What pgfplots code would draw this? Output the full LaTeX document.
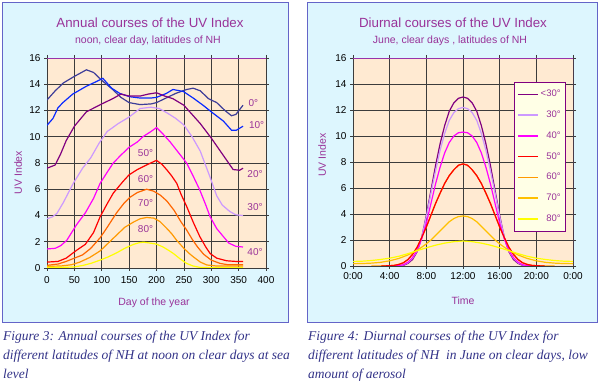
\documentclass[border=0pt]{standalone}
\usepackage{fontspec}
\setmainfont{Liberation Sans}
\newfontfamily\capfont{Liberation Serif}
\usepackage{pgfplots}
\pgfplotsset{compat=1.18}
\definecolor{panelbg}{HTML}{DDF6FE}
\definecolor{panelframe}{HTML}{6464C8}
\definecolor{plotbg}{HTML}{FFEAD2}
\definecolor{gridc}{HTML}{3C3C3C}
\definecolor{ttl}{HTML}{993399}
\definecolor{frm}{HTML}{9933AA}
\definecolor{capc}{HTML}{333388}
\definecolor{cA}{HTML}{3D3D99}
\definecolor{cB}{HTML}{0A2AFF}
\definecolor{cC}{HTML}{800080}
\definecolor{cD}{HTML}{CC99FF}
\definecolor{cE}{HTML}{FF00FF}
\definecolor{cF}{HTML}{FF0000}
\definecolor{cG}{HTML}{FF6600}
\definecolor{cH}{HTML}{FF9900}
\definecolor{cI}{HTML}{FFFF00}
\definecolor{cJ}{HTML}{FFC000}
\definecolor{legbg}{HTML}{FFFFE6}
\pgfplotsset{uvaxis/.style={
  scale only axis,
  axis background/.style={fill=plotbg},
  grid=major,
  major grid style={draw=gridc, line width=0.7pt},
  axis line style={draw=gridc, line width=0.7pt},
  tick align=outside, major tick length=3pt,
  tick style={draw=gridc, line width=0.7pt},
  ymin=0, ymax=16, ytick={0,2,...,16},
  ticklabel style={font=\fontsize{10}{12}\selectfont},
  /pgf/number format/assume math mode=true,
  every axis plot/.append style={line width=1.2pt, mark=none},
}}
\begin{document}
\begin{tikzpicture}
\useasboundingbox (0,0) rectangle (600pt,385pt);
\filldraw[fill=panelbg, draw=panelframe, line width=1pt] (2.5pt,62pt) rectangle (288pt,382.5pt);
\filldraw[fill=panelbg, draw=panelframe, line width=1pt] (307pt,62pt) rectangle (597.5pt,382.5pt);
% titles
\node[anchor=base, font=\fontsize{13.3}{15}\selectfont, text=ttl] at (150pt,357.7pt) {Annual courses of the UV Index};
\node[anchor=base, font=\fontsize{10.5}{12}\selectfont, text=ttl] at (148pt,341.3pt) {noon, clear day, latitudes of NH};
\node[anchor=base, font=\fontsize{13.3}{15}\selectfont, text=ttl] at (453pt,357.7pt) {Diurnal courses of the UV Index};
\node[anchor=base, font=\fontsize{10.5}{12}\selectfont, text=ttl] at (450pt,341.3pt) {June, clear days , latitudes of NH};
% axis labels
\node[anchor=base, font=\fontsize{10.5}{12}\selectfont, text=ttl] at (154pt,79pt) {Day of the year};
\node[anchor=base, font=\fontsize{10.5}{12}\selectfont, text=ttl] at (463pt,80.7pt) {Time};
\node[rotate=90, font=\fontsize{10.5}{12}\selectfont, text=ttl] at (18pt,212.5pt) {UV Index};
\node[rotate=90, font=\fontsize{10.5}{12}\selectfont, text=ttl] at (322pt,230pt) {UV Index};
% captions
\begin{scope}[every node/.style={anchor=base west, font=\capfont\itshape\fontsize{13.5}{19}\selectfont, text=capc, inner sep=0pt}]
\node at (3pt,44pt) {Figure 3: Annual courses of the UV Index for};
\node at (3pt,25pt) {different latitudes of NH at noon on clear days at sea};
\node at (3pt,6pt) {level};
\node at (308pt,44pt) {Figure 4: Diurnal courses of the UV Index for};
\node at (308pt,25pt) {different latitudes of NH\ \ in June on clear days, low};
\node at (308pt,6pt) {amount of aerosol};
\end{scope}

% ---------------- left chart
\begin{axis}[uvaxis, at={(47pt,117pt)}, anchor=south west, width=219pt, height=210pt,
  xmin=0, xmax=400, xtick={0,50,...,400},
  xticklabel style={yshift=-2pt}]
\addplot[cA] coordinates {(0,12.8)(15,13.5)(30,14.1)(50,14.6)(72,15.1)(85,14.9)(100,14.3)(120,13.6)(135,13.0)(150,12.6)(170,12.45)(190,12.5)(200,12.6)(215,12.9)(235,13.3)(255,13.6)(267,13.7)(280,13.5)(295,12.9)(310,12.6)(325,12.0)(337,11.6)(345,11.7)(358,12.4)};
\addplot[cB] coordinates {(0,10.87)(11,11.4)(20,12.2)(29,12.6)(47,13.25)(72,13.85)(90,14.2)(102,14.45)(118,13.7)(133,13.3)(151,13.05)(170,12.95)(190,12.95)(200,13.0)(218,13.3)(230,13.6)(249,13.45)(267,12.95)(285,12.4)(300,11.9)(322,11.2)(337,10.5)(346,10.5)(358,10.8)};
\addplot[cC] coordinates {(0,7.6)(15,7.85)(25,8.7)(35,9.7)(50,10.8)(72,11.9)(100,12.5)(120,12.9)(135,13.25)(150,13.1)(170,13.1)(185,13.25)(200,13.35)(215,13.1)(230,12.9)(250,12.4)(265,11.7)(280,11.0)(300,9.9)(320,8.7)(340,7.5)(352,7.45)(358,7.6)};
\addplot[cD] coordinates {(0,3.75)(10,3.9)(18,4.15)(30,5.0)(48,6.45)(65,7.6)(80,8.4)(95,9.5)(110,10.4)(130,11.0)(150,11.5)(170,12.15)(190,12.25)(205,12.15)(220,11.8)(235,11.4)(250,10.9)(265,10.0)(280,8.9)(298,6.9)(310,5.5)(320,4.8)(334,4.3)(345,4.05)(358,4.0)};
\addplot[cE] coordinates {(0,1.45)(15,1.5)(25,1.7)(36,2.1)(54,3.3)(70,4.2)(85,5.3)(97,6.45)(110,7.3)(121,8.0)(135,8.6)(150,9.2)(165,9.6)(175,10.0)(190,10.4)(200,10.7)(212,10.2)(225,9.6)(240,8.8)(255,8.0)(267,7.0)(279,5.95)(290,4.8)(298,3.9)(310,3.0)(322,2.4)(332,1.9)(345,1.65)(358,1.6)};
\addplot[cF] coordinates {(0,0.45)(20,0.5)(35,0.75)(54,1.35)(70,1.8)(85,2.7)(97,3.9)(110,4.9)(121,5.7)(139,6.6)(150,7.1)(165,7.5)(182,7.85)(192,8.05)(200,8.2)(210,7.9)(219,7.47)(228,7.0)(237,6.45)(245,5.6)(255,4.7)(267,3.5)(279,2.4)(290,1.6)(298,1.1)(310,0.75)(328,0.55)(345,0.5)(358,0.5)};
\addplot[cG] coordinates {(0,0.2)(20,0.3)(35,0.5)(50,0.75)(65,1.0)(80,1.5)(97,2.3)(110,3.1)(127,4.2)(140,4.9)(152,5.4)(165,5.75)(182,6.0)(195,5.85)(207,5.55)(219,5.1)(232,4.4)(245,3.5)(255,2.9)(265,2.2)(275,1.6)(286,1.05)(300,0.6)(316,0.35)(330,0.25)(358,0.25)};
\addplot[cH] coordinates {(0,0.13)(25,0.15)(45,0.25)(60,0.45)(78,0.8)(97,1.3)(112,1.9)(127,2.5)(142,3.1)(158,3.5)(170,3.75)(182,3.85)(195,3.8)(206,3.55)(218,3.05)(228,2.6)(237,2.1)(250,1.5)(260,1.1)(267,0.86)(280,0.45)(292,0.23)(310,0.15)(358,0.15)};
\addplot[cI] coordinates {(0,0.05)(30,0.05)(50,0.08)(66,0.2)(80,0.35)(97,0.6)(112,0.85)(127,1.15)(142,1.5)(158,1.8)(168,1.92)(176,1.97)(188,1.9)(200,1.82)(212,1.6)(222,1.35)(231,1.1)(243,0.7)(255,0.35)(267,0.15)(279,0.05)(300,0.02)(358,0.02)};
\draw[frm, line width=0.8pt] (rel axis cs:0,1) -- (rel axis cs:1,1) -- (rel axis cs:1,0);
\begin{scope}[every node/.style={font=\fontsize{10}{12}\selectfont, text=ttl}]
\node at (axis cs:377,12.55) {0°};
\node at (axis cs:383,10.9) {10°};
\node at (axis cs:380,7.14) {20°};
\node at (axis cs:380,4.67) {30°};
\node at (axis cs:380,1.24) {40°};
\node at (axis cs:180,8.78) {50°};
\node at (axis cs:180,6.75) {60°};
\node at (axis cs:180,4.93) {70°};
\node at (axis cs:180,2.95) {80°};
\end{scope}
\end{axis}

% ---------------- right chart
\begin{axis}[uvaxis, at={(353pt,119pt)}, anchor=south west, width=220pt, height=208pt,
  xmin=0, xmax=24, xtick={0,4,...,24},
  xticklabels={0:00,4:00,8:00,12:00,16:00,20:00,0:00},
  legend style={at={(1,1)}, anchor=north east, xshift=-7pt, yshift=-24pt,
    fill=legbg, draw=cC, line width=0.7pt, font=\fontsize{9.5}{11}\selectfont,
    text=ttl, row sep=8.6pt, inner xsep=3pt, inner ysep=6pt,
    cells={anchor=east}},
  legend image code/.code={\draw[#1, line width=1.6pt] (0pt,0pt) -- (20pt,0pt);}]
% 60 deg drawn first, mostly hidden beneath later series
\addplot[cH, forget plot] coordinates {(2,0)(3,0.01)(4,0.02)(4.5,0.05)(5,0.12)(5.5,0.25)(6,0.5)(6.5,0.9)(7,1.45)(7.5,2.2)(8,3.0)(8.5,3.9)(9,4.8)(9.5,5.6)(10,6.35)(10.5,6.95)(11,7.4)(11.5,7.75)(12,7.85)(12.5,7.75)(13,7.4)(13.5,6.95)(14,6.35)(14.5,5.6)(15,4.8)(15.5,3.9)(16,3.0)(16.5,2.2)(17,1.45)(17.5,0.9)(18,0.5)(18.5,0.25)(19,0.12)(19.5,0.05)(20,0.02)(21,0.01)(22,0)};
\addplot[cC, forget plot] coordinates {(4.5,0)(5,0.01)(5.5,0.05)(6,0.2)(6.5,0.5)(7,1.1)(7.5,2.2)(8,3.9)(8.5,5.8)(9,7.7)(9.5,9.4)(10,10.8)(10.5,11.9)(11,12.55)(11.5,12.9)(12,13.0)(12.5,12.9)(13,12.55)(13.5,11.9)(14,10.8)(14.5,9.4)(15,7.7)(15.5,5.8)(16,3.9)(16.5,2.2)(17,1.1)(17.5,0.5)(18,0.2)(18.5,0.05)(19,0.01)(19.5,0)};
\addplot[cD, forget plot] coordinates {(4.5,0)(5,0.02)(5.5,0.08)(6,0.25)(6.5,0.6)(7,1.15)(7.5,2.2)(8,3.8)(8.5,5.6)(9,7.3)(9.5,8.9)(10,10.2)(10.5,11.2)(11,11.8)(11.5,12.1)(12,12.2)(12.5,12.1)(13,11.8)(13.5,11.2)(14,10.2)(14.5,8.9)(15,7.3)(15.5,5.6)(16,3.8)(16.5,2.2)(17,1.15)(17.5,0.6)(18,0.25)(18.5,0.08)(19,0.02)(19.5,0)};
\addplot[cE, forget plot] coordinates {(4.4,0)(5,0.02)(5.5,0.1)(6,0.3)(6.5,0.65)(7,1.2)(7.5,2.1)(8,3.3)(8.5,4.8)(9,6.3)(9.5,7.6)(10,8.7)(10.5,9.5)(11,10.0)(11.5,10.25)(12,10.3)(12.5,10.25)(13,10.0)(13.5,9.5)(14,8.7)(14.5,7.6)(15,6.3)(15.5,4.8)(16,3.3)(16.5,2.1)(17,1.2)(17.5,0.65)(18,0.3)(18.5,0.1)(19,0.02)(19.6,0)};
\addplot[cF, forget plot] coordinates {(3.1,0)(4,0.02)(4.5,0.05)(5,0.12)(5.5,0.25)(6,0.5)(6.5,0.9)(7,1.45)(7.5,2.2)(8,3.0)(8.5,3.9)(9,4.8)(9.5,5.6)(10,6.35)(10.5,6.95)(11,7.4)(11.5,7.75)(12,7.85)(12.5,7.75)(13,7.4)(13.5,6.95)(14,6.35)(14.5,5.6)(15,4.8)(15.5,3.9)(16,3.0)(16.5,2.2)(17,1.45)(17.5,0.9)(18,0.5)(18.5,0.25)(19,0.12)(19.5,0.05)(20,0.02)(20.9,0)};
\addplot[cJ, forget plot] coordinates {(0,0.18)(1,0.19)(2,0.22)(3,0.28)(4,0.4)(5,0.58)(6,0.85)(7,1.2)(7.5,1.45)(8,1.7)(8.5,2.0)(9,2.35)(9.5,2.7)(10,3.05)(10.5,3.4)(11,3.65)(11.5,3.8)(12,3.85)(12.5,3.8)(13,3.65)(13.5,3.4)(14,3.05)(14.5,2.7)(15,2.35)(15.5,2.0)(16,1.7)(16.5,1.45)(17,1.2)(18,0.85)(19,0.58)(20,0.4)(21,0.28)(22,0.22)(23,0.19)(24,0.18)};
\addplot[cI, forget plot] coordinates {(0,0.35)(1,0.37)(2,0.42)(3,0.5)(4,0.6)(5,0.75)(6,0.95)(7,1.18)(8,1.4)(9,1.6)(10,1.76)(11,1.87)(12,1.92)(13,1.87)(14,1.76)(15,1.6)(16,1.4)(17,1.18)(18,0.95)(19,0.75)(20,0.6)(21,0.5)(22,0.42)(23,0.37)(24,0.35)};
\addlegendimage{draw=cC}\addlegendentry{<30°}
\addlegendimage{draw=cD}\addlegendentry{30°}
\addlegendimage{draw=cE}\addlegendentry{40°}
\addlegendimage{draw=cF}\addlegendentry{50°}
\addlegendimage{draw=cH}\addlegendentry{60°}
\addlegendimage{draw=cJ}\addlegendentry{70°}
\addlegendimage{draw=cI}\addlegendentry{80°}
\draw[frm, line width=0.8pt] (rel axis cs:0,1) -- (rel axis cs:1,1) -- (rel axis cs:1,0);
\end{axis}
\end{tikzpicture}
\end{document}
